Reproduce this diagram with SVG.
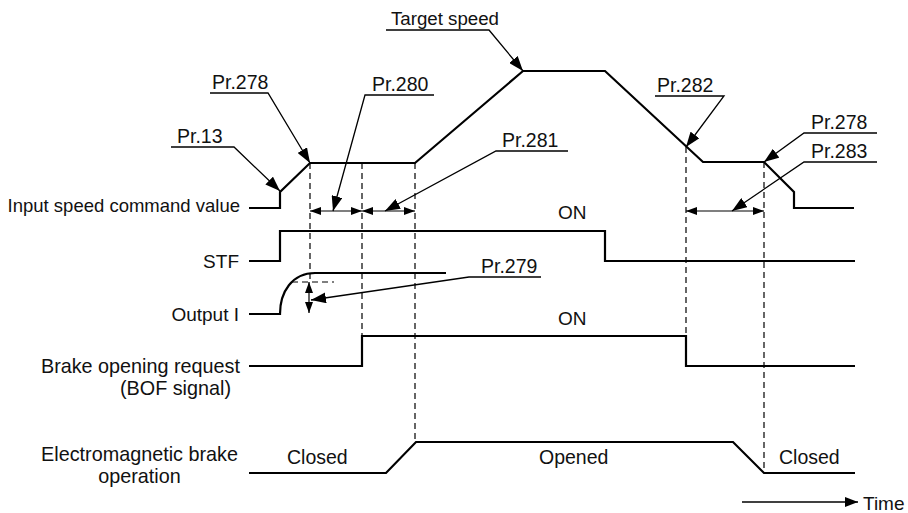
<svg xmlns="http://www.w3.org/2000/svg" width="908" height="513" viewBox="0 0 908 513">
<defs>
<style>
text{font-family:"Liberation Sans",Arial,sans-serif;font-size:19.5px;fill:#111}
.lbl{text-anchor:end}
.mid{text-anchor:middle}
.wave{fill:none;stroke:#000;stroke-width:2.2;stroke-linejoin:miter}
.dash{fill:none;stroke:#000;stroke-width:1.2;stroke-dasharray:6,4}
.lead{fill:none;stroke:#000;stroke-width:1.3;marker-end:url(#ah)}
.dim{fill:none;stroke:#000;stroke-width:1.2;marker-start:url(#dh);marker-end:url(#dh)}
</style>
<marker id="ah" markerUnits="userSpaceOnUse" markerWidth="15" markerHeight="11" refX="15" refY="5.5" orient="auto"><path d="M0,0 L15,5.5 L0,11 z" fill="#000"/></marker>
<marker id="dh" markerUnits="userSpaceOnUse" markerWidth="11" markerHeight="8" refX="11" refY="4" orient="auto-start-reverse"><path d="M0,0 L11,4 L0,8 z" fill="#000"/></marker>
<marker id="th" markerUnits="userSpaceOnUse" markerWidth="13" markerHeight="10" refX="13" refY="5" orient="auto"><path d="M0,0 L13,5 L0,10 z" fill="#000"/></marker>
</defs>
<rect width="908" height="513" fill="#fff"/>

<g id="speed">
<text class="lbl" x="240" y="212" style="font-size:18.5px">Input speed command value</text>
<path class="wave" d="M249,208 L280,208 L280,192 L310,163 L415,163 L523,71 L605,71 L703,162 L764,162 L794,192 L794,208 L854,208"/>
</g>
<g id="stf">
<text class="lbl" x="239" y="268" style="font-size:19px">STF</text>
<text x="558" y="219" style="font-size:19px">ON</text>
<path class="wave" d="M249,261 L280,261 L280,231 L605,231 L605,261 L855,261"/>
</g>
<g id="output-i">
<text class="lbl" x="239" y="321" style="font-size:19px">Output I</text>
<path class="wave" d="M249,314 L280,314 C280,292 292,273 315,273 L446,273"/>
</g>
<g id="bof">
<text class="lbl" x="240" y="373" style="font-size:19.8px">Brake opening request</text>
<text class="lbl" x="231" y="395" style="font-size:19.8px">(BOF signal)</text>
<text x="558" y="325" style="font-size:19px">ON</text>
<path class="wave" d="M249,366 L362,366 L362,336 L686,336 L686,366 L855,366"/>
</g>
<g id="brake">
<text class="mid" x="139.5" y="461" style="font-size:19.8px">Electromagnetic brake</text>
<text class="mid" x="139.5" y="483" style="font-size:19.8px">operation</text>
<text x="287" y="464">Closed</text>
<text x="539" y="464">Opened</text>
<text x="779" y="464">Closed</text>
<path class="wave" d="M249,473 L386,473 L416,442 L733,442 L764,473 L855,473"/>
</g>
<g id="guides">
<path class="dash" d="M310,163 V282 M362,163 V336 M415,163 V442 M686,147 V366 M764,162 V473 M292,282 H334"/>
</g>
<g id="dimensions">
<path class="dim" d="M310,211 H362"/>
<path class="dim" d="M362,211 H415"/>
<path class="dim" d="M686,211 H764"/>
<path class="dim" d="M309,282 V313"/>
</g>
<g id="labels">
<text x="177" y="143">Pr.13</text>
<text x="212" y="89">Pr.278</text>
<text x="372" y="91">Pr.280</text>
<text x="499" y="25" text-anchor="end" style="font-size:18.7px">Target speed</text>
<text x="502" y="147">Pr.281</text>
<text x="657" y="92">Pr.282</text>
<text x="811" y="129">Pr.278</text>
<text x="811" y="158">Pr.283</text>
<text x="481" y="273">Pr.279</text>
<text x="863" y="510" style="font-size:19px">Time</text>
</g>
<g id="connectors">
<path class="lead" d="M171,147 H234 L280,191"/>
<path class="lead" d="M210,93 H268 L310,163"/>
<path class="lead" d="M434,95 H365 L333,211"/>
<path class="lead" d="M386,30 H489 L523,71"/>
<path class="lead" d="M568,151 H496 L385,211"/>
<path class="lead" d="M655,96 H724 L686,147"/>
<path class="lead" d="M877,133 H804 L764,162"/>
<path class="lead" d="M877,162 H804 L732,211"/>
<path class="lead" d="M541,277 H469 L311,300"/>
<path d="M742,502 H858" fill="none" stroke="#000" stroke-width="1.3" marker-end="url(#th)"/>
</g>
</svg>
